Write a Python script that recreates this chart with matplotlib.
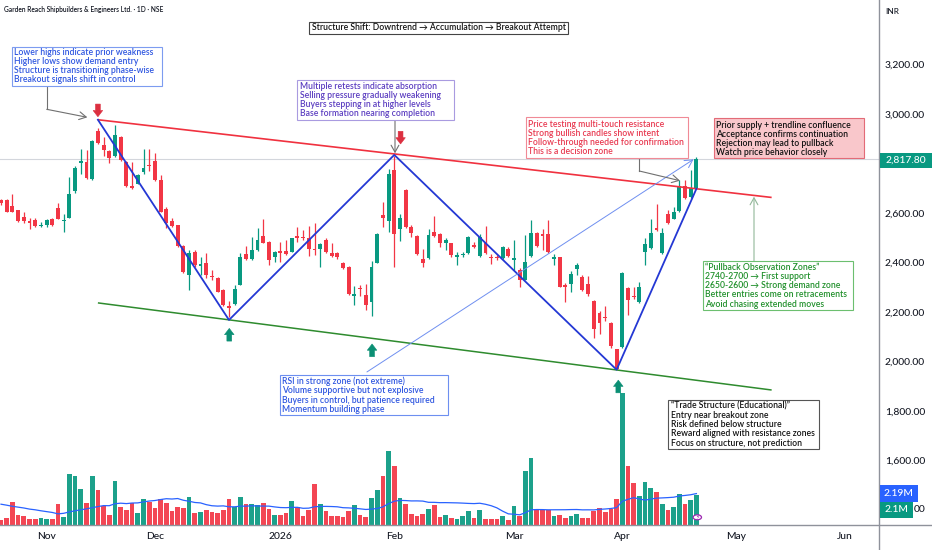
import matplotlib
matplotlib.use("Agg")
import matplotlib.pyplot as plt
import numpy as np
import pandas as pd
from matplotlib.patches import Rectangle, Polygon, FancyArrowPatch, Circle
from matplotlib.lines import Line2D

# ---------------- data ----------------
opens = [2650, 2650, 2629, 2610, 2583, 2566, 2570, 2546, 2549, 2573,
         2620, 2565, 2580, 2687, 2800, 2807, 2736, 2929, 2873, 2849,
         2829, 2908, 2805, 2707, 2717, 2763, 2794, 2811, 2734, 2614,
         2566, 2550, 2467, 2347, 2443, 2387, 2399, 2345, 2338, 2289,
         2222, 2233, 2309, 2434, 2412, 2450, 2506, 2483, 2423, 2444,
         2444, 2443, 2506, 2503, 2497, 2454, 2455, 2490, 2436, 2436,
         2396, 2380, 2262, 2298, 2269, 2238, 2399, 2590, 2568, 2774,
         2533, 2691, 2543, 2506, 2415, 2416, 2522, 2515, 2479, 2476,
         2420, 2428, 2439, 2470, 2426, 2479, 2423, 2423, 2416, 2452,
         2410, 2367, 2329, 2427, 2517, 2513, 2513, 2414, 2420, 2309,
         2312, 2372, 2339, 2312, 2244, 2195, 2178, 2155, 2048, 2059,
         2298, 2265, 2238, 2443, 2456, 2537, 2436, 2595, 2574, 2608,
         2707, 2664, 2702]
highs = [2657, 2657, 2675, 2613, 2604, 2581, 2577, 2563, 2573, 2581,
         2640, 2594, 2744, 2791, 2858, 2855, 2894, 2942, 2908, 2854,
         2956, 2912, 2811, 2805, 2758, 2858, 2858, 2841, 2751, 2624,
         2577, 2552, 2470, 2450, 2450, 2423, 2439, 2369, 2342, 2293,
         2242, 2309, 2436, 2466, 2503, 2537, 2573, 2487, 2447, 2483,
         2490, 2500, 2543, 2530, 2546, 2560, 2479, 2497, 2476, 2443,
         2403, 2385, 2305, 2309, 2313, 2406, 2519, 2644, 2778, 2831,
         2597, 2697, 2550, 2510, 2452, 2533, 2586, 2519, 2497, 2477,
         2442, 2443, 2506, 2483, 2513, 2546, 2434, 2430, 2466, 2463,
         2490, 2376, 2510, 2570, 2523, 2533, 2570, 2434, 2423, 2316,
         2363, 2399, 2349, 2343, 2249, 2202, 2225, 2158, 2051, 2359,
         2302, 2302, 2322, 2497, 2573, 2635, 2537, 2610, 2624, 2734,
         2731, 2774, 2825]
lows = [2630, 2603, 2602, 2563, 2557, 2534, 2541, 2543, 2543, 2547,
        2573, 2523, 2577, 2681, 2758, 2738, 2734, 2878, 2831, 2800,
        2825, 2811, 2704, 2696, 2715, 2755, 2768, 2727, 2604, 2537,
        2541, 2463, 2356, 2289, 2383, 2349, 2336, 2329, 2278, 2222,
        2180, 2229, 2308, 2410, 2410, 2447, 2476, 2389, 2403, 2403,
        2430, 2440, 2483, 2490, 2427, 2430, 2383, 2439, 2420, 2415,
        2372, 2269, 2229, 2262, 2209, 2185, 2396, 2543, 2523, 2383,
        2486, 2537, 2503, 2430, 2383, 2414, 2503, 2460, 2450, 2423,
        2389, 2423, 2434, 2456, 2420, 2434, 2394, 2410, 2414, 2423,
        2369, 2302, 2327, 2423, 2463, 2450, 2439, 2390, 2300, 2238,
        2282, 2349, 2286, 2265, 2095, 2112, 2162, 2055, 1968, 2055,
        2189, 2252, 2236, 2390, 2452, 2527, 2434, 2554, 2573, 2605,
        2657, 2661, 2697]
closes = [2640, 2604, 2605, 2567, 2566, 2559, 2546, 2551, 2570, 2550,
          2576, 2570, 2677, 2782, 2811, 2740, 2892, 2882, 2854, 2822,
          2916, 2814, 2707, 2701, 2751, 2780, 2788, 2731, 2604, 2557,
          2546, 2466, 2359, 2439, 2389, 2392, 2347, 2342, 2282, 2229,
          2216, 2292, 2423, 2414, 2450, 2490, 2479, 2410, 2442, 2436,
          2432, 2497, 2500, 2497, 2454, 2450, 2474, 2443, 2427, 2420,
          2375, 2273, 2272, 2293, 2229, 2383, 2514, 2580, 2758, 2514,
          2577, 2541, 2517, 2434, 2396, 2509, 2507, 2476, 2490, 2428,
          2428, 2434, 2501, 2463, 2503, 2439, 2416, 2419, 2463, 2427,
          2416, 2329, 2403, 2519, 2466, 2507, 2443, 2420, 2302, 2302,
          2352, 2389, 2289, 2273, 2131, 2153, 2173, 2061, 1970, 2356,
          2249, 2260, 2302, 2474, 2519, 2530, 2517, 2560, 2602, 2707,
          2661, 2702, 2817.8]
volumes_m = [0.30, 0.50, 1.62, 0.71, 0.62, 0.38, 0.40, 0.45, 0.38, 0.38,
             1.43, 0.55, 3.64, 3.43, 2.52, 1.52, 3.50, 2.48, 1.33, 0.71,
             3.14, 1.26, 1.02, 1.52, 0.83, 1.79, 1.64, 1.17, 1.79, 1.57,
             1.00, 1.24, 1.17, 2.00, 0.79, 0.90, 1.02, 0.90, 0.83, 1.02,
             1.83, 1.26, 1.98, 1.45, 1.45, 1.38, 1.57, 1.10, 0.67, 0.67,
             0.79, 1.69, 1.24, 0.60, 1.02, 2.88, 1.45, 0.98, 0.64, 0.64,
             0.55, 0.98, 1.38, 0.71, 0.55, 1.88, 2.45, 3.45, 5.26, 4.19,
             1.88, 1.45, 0.74, 0.64, 0.74, 1.14, 1.38, 0.55, 0.69, 0.45,
             0.38, 0.64, 0.95, 0.45, 1.07, 0.40, 0.38, 0.38, 0.60, 0.31,
             1.31, 0.64, 3.83, 4.74, 1.07, 1.07, 1.07, 0.60, 0.71, 0.50,
             0.60, 0.74, 0.45, 0.50, 0.95, 1.21, 0.86, 1.12, 1.83, 9.36,
             4.17, 2.93, 2.02, 3.05, 2.64, 2.33, 1.43, 1.02, 1.26, 2.21,
             1.43, 1.74, 2.10]
# volume MA values visible for the first 19 bars (its window starts before the chart)
vol_ma_head = [1.45, 1.38, 1.30, 1.24, 1.18, 1.10, 1.05, 0.98, 0.92, 0.86,
               0.76, 0.80, 0.90, 0.98, 1.05, 1.12, 1.20, 1.28, 1.35]

month_labels = ["Nov", "Dec", "2026", "Feb", "Mar", "Apr", "May", "Jun"]
month_bar = [8, 27, 49, 69, 90, 109, 129, 148]
price_ticks = [1600, 1800, 2000, 2200, 2400, 2600, 3000, 3200]
partly_hidden_tick = 1400
last_price = 2817.8
last_volume_ma = "2.19M"
last_volume = "2.1M"

# drawing anchors (bar index, price)
zig_bar = [17, 40, 69, 108, 122]
zig_price = [2976, 2167, 2834, 1966, 2697]
res_bar = [17, 135.2]
res_price = [2976, 2662]
sup_bar = [17, 135.2]
sup_price = [2236, 1884]
ray_bar = [64.2, 121.5]
ray_price = [1957, 2816]
down_marks = [(17, 2988), (70.1, 2878)]
up_marks = [(40.05, 2133), (65.1, 2070), (108.3, 1924)]

# ---------------- figure ----------------
W, H, DPI = 932, 550, 100
FONT = ['Lato', 'DejaVu Sans']
plt.rcParams['font.family'] = FONT
GREEN, RED = '#089981', '#f23645'
TXT = '#131722'
BOX_W = 'semibold'
AX_W = 'medium'

fig = plt.figure(figsize=(W / DPI, H / DPI), dpi=DPI)
fig.patch.set_facecolor('white')
renderer = fig.canvas.get_renderer()

def FX(px):
    return px / W

def FY(py):
    return 1 - py / H

def fit(text, target_px, weight='normal', ref=10.0):
    t = fig.text(0, 0, text, fontsize=ref, family=FONT, fontweight=weight)
    w = t.get_window_extent(renderer).width
    t.remove()
    return ref * target_px / w

BOX_FS = np.mean([fit("Structure is transitioning phase-wise", 140, BOX_W),
                  fit("Selling pressure gradually weakening", 141.3, BOX_W),
                  fit("Follow-through needed for confirmation", 154.3, BOX_W),
                  fit("Reward aligned with resistance zones", 144.3, BOX_W)])
AX_FS = fit("3,000.00", 40.3, AX_W)

AX_BOTTOM_PX = 524.5
AX_RIGHT_PX = 879
PX_PER_BAR = 5.7
ax = fig.add_axes([0, FY(AX_BOTTOM_PX), FX(AX_RIGHT_PX), AX_BOTTOM_PX / H])
axv = ax.twinx()
ax.set_zorder(axv.get_zorder() + 1)
ax.patch.set_visible(False)

ax.set_xlim((0 - 1) / PX_PER_BAR, (AX_RIGHT_PX - 1) / PX_PER_BAR)
ax.set_ylim(1340.6, 3459.8)
axv.set_ylim(0, AX_BOTTOM_PX / 14.0)

idx = np.arange(len(opens))
o = np.array(opens, float); h = np.array(highs, float)
l = np.array(lows, float); c = np.array(closes, float)
up = c >= o
cols = np.where(up, GREEN, RED)

# volume
vol = pd.Series(volumes_m)
ma = vol.rolling(20).mean().to_numpy()
ma[:len(vol_ma_head)] = vol_ma_head
axv.bar(idx, volumes_m, width=0.82, color=cols, alpha=0.92, linewidth=0)
axv.plot(idx, ma, color='#2962ff', lw=0.9)
axv.set_axis_off()

# last-price line
ax.axhline(last_price, color='#d3d6dc', lw=0.8, zorder=1)

# candles
ax.vlines(idx, l, h, colors=cols, lw=0.9, zorder=3)
body_bot = np.minimum(o, c)
body_h = np.maximum(np.abs(c - o), 3.0)
ax.bar(idx, body_h, bottom=body_bot, width=0.68, color=cols, linewidth=0, zorder=4)

# trend drawings
ax.plot(res_bar, res_price, color='#f0313f', lw=1.2, zorder=5, solid_capstyle='butt')
ax.plot(sup_bar, sup_price, color='#2e8b2e', lw=1.1, zorder=5, solid_capstyle='butt')
ax.plot(zig_bar, zig_price, color='#2438d4', lw=1.3, zorder=6)
ax.annotate('', xy=(ray_bar[1], ray_price[1]), xytext=(ray_bar[0], ray_price[0]),
            arrowprops=dict(arrowstyle='->,head_length=0.55,head_width=0.3', color='#6f8ff0',
                            lw=0.7, shrinkA=0, shrinkB=0, mutation_scale=10), zorder=6)

# axes styling
for s in ax.spines.values():
    s.set_visible(False)
ax.yaxis.tick_right()
ax.set_yticks(price_ticks)
ax.set_yticklabels([f"{p:,.2f}" for p in price_ticks], fontweight=AX_W)
ax.tick_params(axis='y', length=0, pad=4.3, labelsize=AX_FS, labelcolor=TXT)
ax.set_xticks(month_bar)
ax.set_xticklabels(month_labels, fontweight=AX_W)
ax.tick_params(axis='x', length=0, pad=5.2, labelsize=AX_FS, labelcolor=TXT)

# the 1,400.00 tick label is mostly hidden behind the volume labels: only its tail shows
_, y1400 = ax.transData.transform((0, partly_hidden_tick))
fig.text(FX(925.5), y1400 / H, f"{partly_hidden_tick:,.2f}"[-2:], fontsize=AX_FS, family=FONT,
         fontweight=AX_W, color=TXT, ha='right', va='center', zorder=41)

# frame lines
fig.add_artist(Line2D([0, 1], [FY(AX_BOTTOM_PX)] * 2, transform=fig.transFigure,
                      color='#8f929b', lw=1.0, zorder=30))
fig.add_artist(Line2D([FX(AX_RIGHT_PX)] * 2, [0, 1], transform=fig.transFigure,
                      color='#8f929b', lw=1.0, zorder=30))

# arrow marks (data anchored, pixel sized)
def arrow_mark(bar, price, color, down):
    xd, yd = ax.transData.transform((bar, price))
    xp, yp = xd, H - yd
    length, hl, sw, hw = 12.7, 6.3, 2.4, 4.8
    tip = yp
    tail = yp - length if down else yp + length
    base = tip - hl if down else tip + hl
    pts = [(xp - sw, tail), (xp + sw, tail), (xp + sw, base), (xp + hw, base),
           (xp, tip), (xp - hw, base), (xp - sw, base)]
    fig.add_artist(Polygon([(FX(x), FY(y)) for x, y in pts], closed=True,
                           transform=fig.transFigure, fc=color, ec=color, lw=0.4, zorder=25))

for b, p in down_marks:
    arrow_mark(b, p, '#dc2f40', True)
for b, p in up_marks:
    arrow_mark(b, p, '#0b8f74', False)

# ---------------- annotation boxes ----------------
def textbox(x0, y0, x1, y1, lines, tx, ty0, dy, color, fc='white', ec='#888888', lw=0.8):
    fig.add_artist(Rectangle((FX(x0), FY(y1)), (x1 - x0) / W, (y1 - y0) / H,
                             transform=fig.transFigure, fc=fc, ec=ec, lw=lw, zorder=40))
    for i, s in enumerate(lines):
        fig.text(FX(tx), FY(ty0 + i * dy), s, color=color, fontsize=BOX_FS, family=FONT,
                 fontweight=BOX_W, ha='left', va='center', zorder=41)

def connector(pts, color='#707070', lw=0.8):
    if len(pts) > 2:
        xs = [FX(p[0]) for p in pts[:-1]]
        ys = [FY(p[1]) for p in pts[:-1]]
        fig.add_artist(Line2D(xs, ys, transform=fig.transFigure, color=color, lw=lw, zorder=35))
    a, b = pts[-2], pts[-1]
    fig.add_artist(FancyArrowPatch((FX(a[0]), FY(a[1])), (FX(b[0]), FY(b[1])),
                                   transform=fig.transFigure,
                                   arrowstyle='->,head_length=0.5,head_width=0.28',
                                   mutation_scale=10, color=color, lw=lw,
                                   shrinkA=0, shrinkB=0, zorder=35))

textbox(12.3, 46.7, 162.3, 86,
        ["Lower highs indicate prior weakness", "Higher lows show demand entry",
         "Structure is transitioning phase-wise", "Breakout signals shift in control"],
        14.2, 52.7, 9.1, '#2d55e0', ec='#7d9cf0')
connector([(46.7, 86), (46.7, 109.3), (87.3, 117.3)])

textbox(297.3, 80, 454.3, 120,
        ["Multiple retests indicate absorption", "Selling pressure gradually weakening",
         "Buyers stepping in at higher levels", "Base formation nearing completion"],
        300, 86.7, 9.0, '#5a3cc0', ec='#a99be0')
connector([(395, 120), (395, 153.3)])

textbox(525.7, 117.3, 687.7, 157.7,
        ["Price testing multi-touch resistance", "Strong bullish candles show intent",
         "Follow-through needed for confirmation", "This is a decision zone"],
        527.7, 124.3, 9.2, '#e8384f', ec='#f08a96')
connector([(639.3, 157.7), (639.3, 171), (680, 180.7)])

textbox(714, 118.3, 864.3, 158.3,
        ["Prior supply + trendline confluence", "Acceptance confirms continuation",
         "Rejection may lead to pullback", "Watch price behavior closely"],
        716, 125, 9.1, '#111111', fc='#f9c7cb', ec='#e36b77')

textbox(702.7, 261, 853.3, 310,
        ["\u201cPullback Observation Zones\u201d", "2740-2700 \u2192 First support",
         "2650-2600 \u2192 Strong demand zone", "Better entries come on retracements",
         "Avoid chasing extended moves"],
        704.7, 267.3, 9.2, '#1f8f2a', ec='#6cbf6f')
connector([(754, 261), (754, 196.7)], color='#93b89a')

textbox(668.3, 400, 819, 449.3,
        ["\u201cTrade Structure (Educational)\u201d", "Entry near breakout zone",
         "Risk defined below structure", "Reward aligned with resistance zones",
         "Focus on structure, not prediction"],
        670.7, 406, 9.25, '#111111', ec='#555555')

textbox(280, 375, 448.3, 415,
        ["RSI in strong zone (not extreme)", "Volume supportive but not explosive",
         "Buyers in control, but patience required", "Momentum building phase"],
        282.3, 381.7, 9.2, '#2d55e0', ec='#6d8ff0')

# title box
TITLE = "Structure Shift: Downtrend \u2192 Accumulation \u2192 Breakout Attempt"
fig.add_artist(Rectangle((FX(309.3), FY(34)), (567.7 - 309.3) / W, (34 - 21.7) / H,
                         transform=fig.transFigure, fc='white', ec='#444444', lw=0.8, zorder=40))
fig.text(FX(438.5), FY(28), TITLE, fontsize=fit(TITLE, 252, BOX_W), family=FONT,
         fontweight=BOX_W, color='#111111', ha='center', va='center', zorder=41)

# header
HEAD = "Garden Reach Shipbuilders & Engineers Ltd. \u00b7 1D \u00b7 NSE"
fig.text(FX(4), FY(9.7), HEAD, fontsize=fit(HEAD, 159, BOX_W), family=FONT, fontweight=BOX_W,
         color=TXT, ha='left', va='center', zorder=41)
fig.text(FX(885), FY(12), "INR", fontsize=AX_FS * 0.8, family=FONT, fontweight=AX_W,
         color=TXT, ha='left', va='center', zorder=41)

# right-axis value labels
def value_label(y0, y1, x1, text, fc):
    fig.add_artist(Rectangle((FX(879.5), FY(y1)), (x1 - 879.5) / W, (y1 - y0) / H,
                             transform=fig.transFigure, fc=fc, ec=fc, lw=0, zorder=45))
    fig.text(FX(879.5 + (x1 - 879.5) / 2), FY((y0 + y1) / 2), text, fontsize=AX_FS,
             family=FONT, fontweight=AX_W, color='white', ha='center', va='center', zorder=46)

value_label(153.3, 167.7, 932, f"{last_price:,.2f}", GREEN)
value_label(485.3, 501.7, 917.7, last_volume_ma, '#2962ff')
value_label(502.3, 517.7, 913, last_volume, GREEN)

# small flash icon near the last volume bar
fig.add_artist(Circle((FX(697.3), FY(517.3)), 4.2 / W, transform=fig.transFigure,
                      fc='white', ec='#9c27b0', lw=0.9, zorder=44))
fig.text(FX(697.3), FY(517.3), "\u26a1", fontsize=4.2, color='#9c27b0', family=['DejaVu Sans'],
         ha='center', va='center', zorder=45)

fig.savefig("out.png", dpi=DPI)
